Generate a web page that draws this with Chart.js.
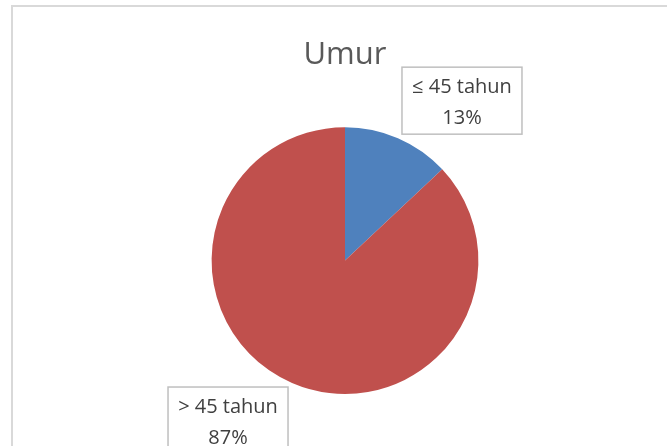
<!DOCTYPE html>
<html lang="id">
<head>
  <meta charset="UTF-8" />
  <title>Umur</title>
  <script src="https://cdn.jsdelivr.net/npm/chart.js"></script>
  <style>
    body {
      margin: 0;
      background: #fff;
      font-family: "Open Sans", sans-serif;
    }
    .frame {
      position: absolute;
      left: 11px;
      top: 5px;
      width: 660px;
      height: 450px;
      border-top: 2px solid #d9d9d9;
      border-left: 2px solid #d9d9d9;
    }
    #chart-umur {
      position: absolute;
      left: 0;
      top: 0;
    }
  </style>
</head>
<body>
  <div class="frame"></div>
  <canvas id="chart-umur" width="667" height="446"></canvas>

  <script>
    const categories = ["≤ 45 tahun", "> 45 tahun"];
    const values = [13, 87];
    const sliceColors = ["#4f81bd", "#c0504d"];

    // label boxes placed just outside each slice, like Excel's callouts
    const boxLabels = {
      id: "boxLabels",
      afterDatasetsDraw(chart) {
        const ctx = chart.ctx;
        const meta = chart.getDatasetMeta(0);
        const total = values.reduce((a, b) => a + b, 0);
        ctx.save();
        ctx.font = '20px "Open Sans", sans-serif';
        meta.data.forEach((arc, i) => {
          const p = arc.getProps(["x", "y", "startAngle", "endAngle", "outerRadius"], true);
          const mid = (p.startAngle + p.endAngle) / 2;
          const ax = p.x + Math.cos(mid) * p.outerRadius;
          const ay = p.y + Math.sin(mid) * p.outerRadius;
          const lines = [categories[i], Math.round(values[i] / total * 100) + "%"];
          const tw = Math.max(...lines.map(l => ctx.measureText(l).width));
          const w = Math.round(tw + 20);
          const h = 67;
          const left = Math.cos(mid) >= 0 ? ax + 4 : ax - 4 - w;
          const top = Math.sin(mid) < 0 ? ay - 4 - h : ay + 4;
          ctx.fillStyle = "#fff";
          ctx.fillRect(left, top, w, h);
          ctx.strokeStyle = "#bfbfbf";
          ctx.lineWidth = 1.5;
          ctx.strokeRect(left, top, w, h);
          ctx.fillStyle = "#404040";
          ctx.textAlign = "center";
          ctx.textBaseline = "middle";
          ctx.fillText(lines[0], left + w / 2, top + 20);
          ctx.fillText(lines[1], left + w / 2, top + 51);
        });
        ctx.restore();
      }
    };

    new Chart(document.getElementById("chart-umur"), {
      type: "pie",
      data: {
        labels: categories,
        datasets: [{
          data: values,
          backgroundColor: sliceColors,
          borderWidth: 0
        }]
      },
      options: {
        responsive: false,
        animation: false,
        layout: {
          padding: { left: 100, right: 77, top: 0, bottom: 52 }
        },
        plugins: {
          legend: { display: false },
          tooltip: { enabled: false },
          title: {
            display: true,
            text: "Umur",
            color: "#595959",
            font: { family: "Open Sans", size: 31, weight: "normal" },
            padding: { top: 37, bottom: 53 }
          }
        }
      },
      plugins: [boxLabels]
    });
  </script>
</body>
</html>
